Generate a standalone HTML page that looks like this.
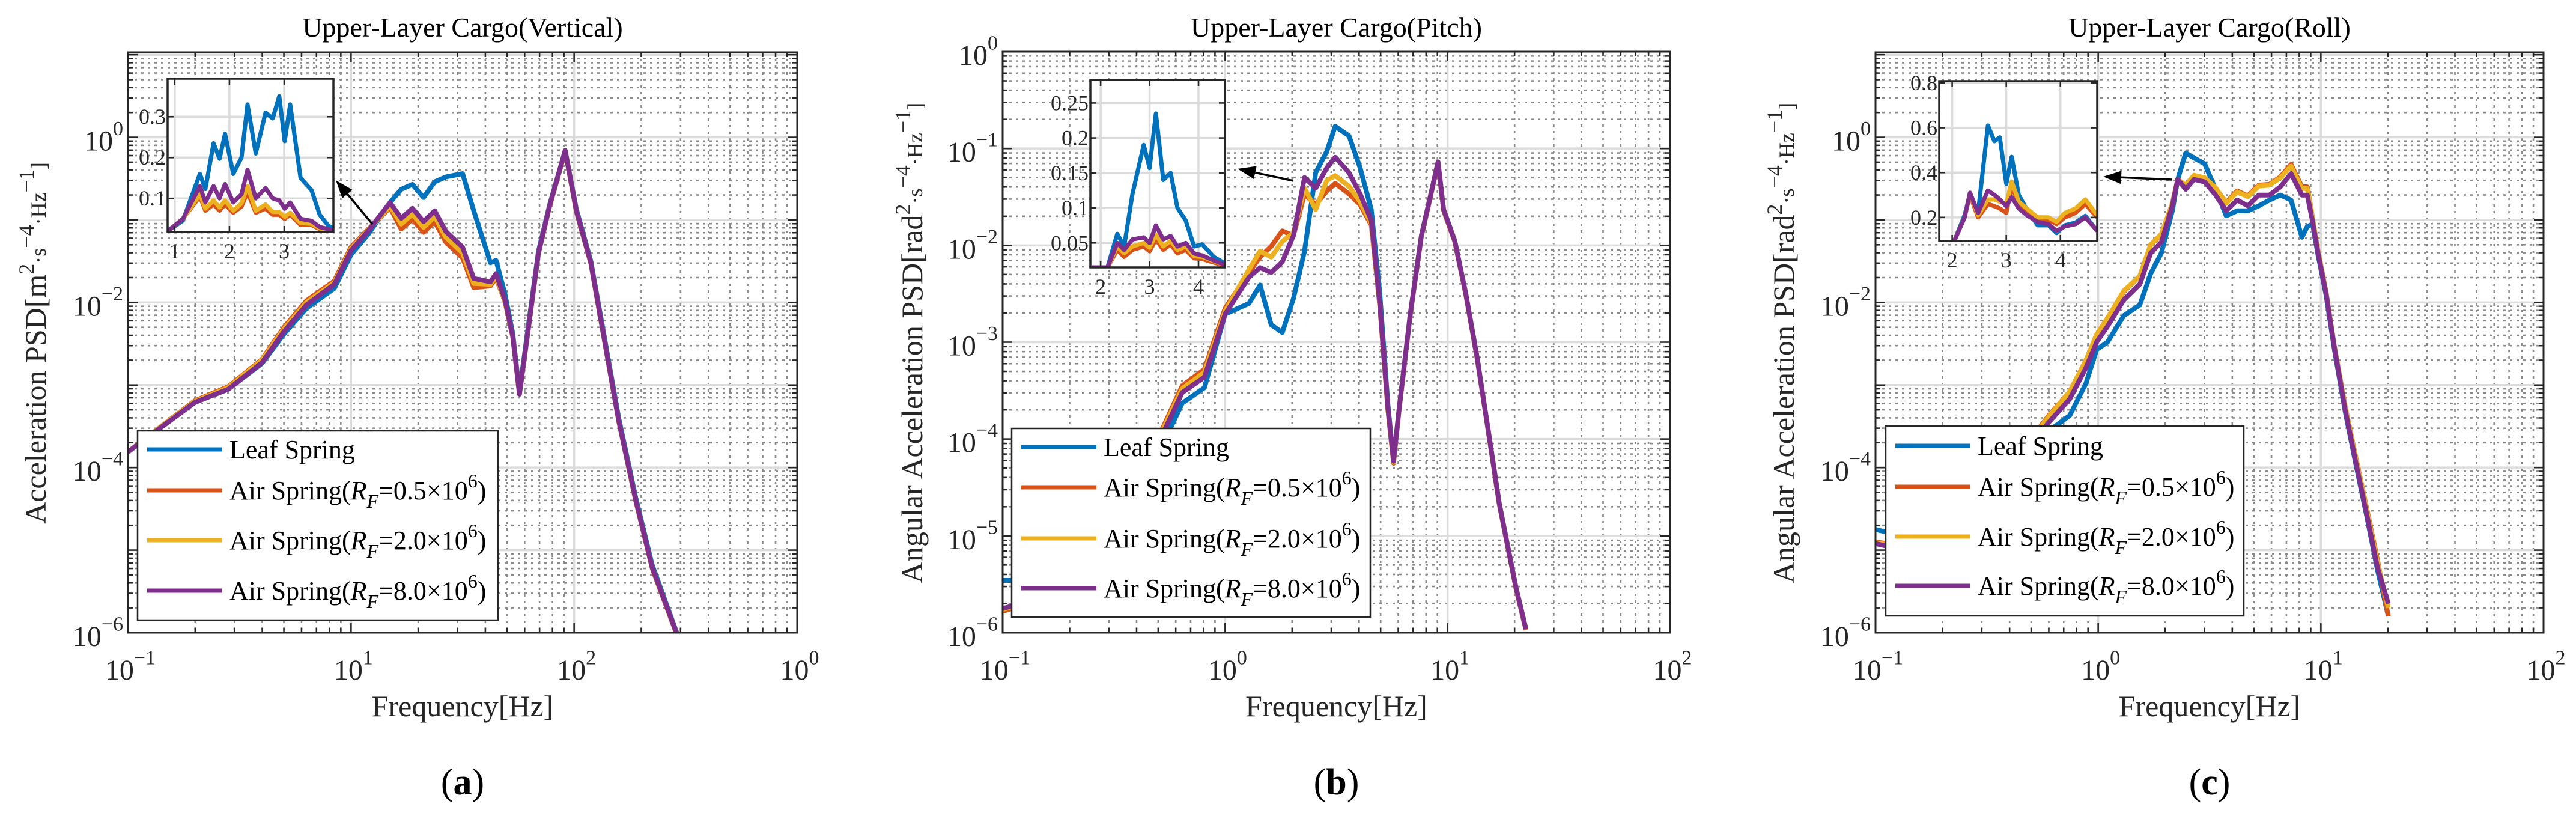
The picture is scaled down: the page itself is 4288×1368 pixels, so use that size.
<!DOCTYPE html>
<html><head><meta charset="utf-8"><style>
html,body{margin:0;padding:0;background:#fff;}
svg{display:block;font-family:"Liberation Serif","DejaVu Serif",serif;}
</style></head><body>
<svg id="fig" width="4288" height="1368" viewBox="0 0 4288 1368" xmlns="http://www.w3.org/2000/svg"></svg>
<script>
// ---------- DATA (log10 units: frequency exponent, PSD exponent) ----------
const aFreqLog = [-1,-0.875,-0.7,-0.55,-0.4,-0.3,-0.2,-0.075,0,0.075,0.175,0.225,0.275,0.325,0.375,0.425,0.5,0.55,0.625,0.65,0.69,0.725,0.755,0.79,0.84,0.89,0.96,1.01,1.075,1.125,1.2,1.275,1.35,1.46];
const aPurple = [-3.81,-3.56,-3.21,-3.05,-2.73,-2.35,-2.03,-1.78,-1.37,-1.14,-0.79,-0.98,-0.86,-1.02,-0.89,-1.14,-1.33,-1.71,-1.75,-1.65,-1.97,-2.41,-3.11,-2.41,-1.40,-0.83,-0.16,-0.89,-1.52,-2.29,-3.43,-4.38,-5.21,-6.01];
const aBlue   = [-3.81,-3.56,-3.21,-3.05,-2.74,-2.38,-2.07,-1.83,-1.42,-1.18,-0.79,-0.63,-0.57,-0.73,-0.54,-0.48,-0.44,-0.89,-1.52,-1.49,-1.90,-2.38,-3.08,-2.38,-1.38,-0.82,-0.16,-0.87,-1.50,-2.26,-3.40,-4.35,-5.18,-6.0];
const aOrange = [-3.81,-3.55,-3.19,-3.02,-2.69,-2.30,-1.98,-1.74,-1.33,-1.12,-0.85,-1.11,-0.99,-1.15,-1.02,-1.27,-1.46,-1.82,-1.80,-1.70,-1.99,-2.42,-3.11,-2.42,-1.41,-0.84,-0.17,-0.90,-1.53,-2.30,-3.44,-4.39,-5.22,-6.02];
const aYellow = [-3.81,-3.55,-3.20,-3.03,-2.70,-2.32,-2.00,-1.76,-1.35,-1.13,-0.83,-1.05,-0.93,-1.09,-0.96,-1.21,-1.40,-1.77,-1.78,-1.68,-1.98,-2.41,-3.11,-2.41,-1.40,-0.83,-0.16,-0.89,-1.52,-2.29,-3.43,-4.38,-5.21,-6.01];
const aInsetX = [0.87,1.15,1.46,1.56,1.71,1.82,1.92,2.07,2.22,2.33,2.48,2.66,2.79,2.91,3.01,3.11,3.3,3.5,3.65,3.81,3.91];
const aInsetBlue   = [0.02,0.046,0.16,0.123,0.235,0.197,0.258,0.16,0.2,0.33,0.21,0.31,0.296,0.35,0.24,0.33,0.15,0.12,0.06,0.033,0.027];
const aInsetPurple = [0.02,0.05,0.13,0.09,0.13,0.1,0.135,0.09,0.11,0.17,0.1,0.125,0.1,0.095,0.075,0.09,0.05,0.045,0.03,0.025,0.02];
const aInsetOrange = [0.02,0.05,0.105,0.07,0.085,0.07,0.085,0.065,0.08,0.115,0.065,0.075,0.06,0.06,0.05,0.06,0.035,0.035,0.025,0.022,0.02];
const aInsetYellow = [0.02,0.05,0.11,0.075,0.095,0.078,0.095,0.07,0.088,0.13,0.07,0.085,0.067,0.067,0.055,0.065,0.04,0.038,0.027,0.023,0.02];

const bFreqLog = [-1,-0.918,-0.718,-0.468,-0.293,-0.193,-0.093,0,0.107,0.157,0.207,0.257,0.307,0.357,0.407,0.457,0.495,0.557,0.607,0.657,0.695,0.732,0.757,0.782,0.832,0.882,0.92,0.957,0.982,1.032,1.082,1.132,1.182,1.232,1.307,1.352];
const bPurple = [-5.75,-5.70,-5.42,-4.61,-4.01,-3.52,-3.36,-2.71,-2.33,-2.23,-2.28,-2.17,-1.90,-1.30,-1.41,-1.20,-1.09,-1.25,-1.47,-1.74,-2.60,-3.69,-4.23,-3.69,-2.71,-1.90,-1.52,-1.14,-1.63,-1.95,-2.50,-3.15,-3.90,-4.66,-5.53,-5.96];
const bBlue   = [-5.46,-5.46,-5.40,-4.65,-4.12,-3.63,-3.47,-2.71,-2.60,-2.41,-2.82,-2.90,-2.55,-2.06,-1.25,-1.03,-0.77,-0.87,-1.20,-1.63,-2.49,-3.65,-4.23,-3.69,-2.71,-1.90,-1.52,-1.14,-1.63,-1.95,-2.50,-3.15,-3.90,-4.66,-5.53,-5.96];
const bOrange = [-5.78,-5.72,-5.40,-4.56,-3.95,-3.45,-3.28,-2.65,-2.28,-2.12,-2.01,-1.85,-1.90,-1.47,-1.58,-1.44,-1.36,-1.47,-1.58,-1.79,-2.62,-3.71,-4.25,-3.70,-2.72,-1.91,-1.53,-1.15,-1.64,-1.96,-2.51,-3.16,-3.91,-4.67,-5.54,-5.97];
const bYellow = [-5.76,-5.71,-5.41,-4.58,-3.97,-3.48,-3.31,-2.68,-2.25,-2.06,-2.12,-1.96,-1.87,-1.41,-1.63,-1.33,-1.28,-1.39,-1.55,-1.77,-2.61,-3.70,-4.24,-3.69,-2.71,-1.90,-1.52,-1.14,-1.63,-1.95,-2.50,-3.15,-3.90,-4.66,-5.53,-5.96];
const bInsetX = [1.82,2.14,2.34,2.48,2.65,2.88,3.0,3.13,3.28,3.43,3.57,3.74,3.91,4.08,4.31,4.56];
const bInsetBlue   = [0.015,0.015,0.063,0.045,0.12,0.19,0.157,0.235,0.14,0.15,0.1,0.082,0.045,0.048,0.03,0.02];
const bInsetPurple = [0.015,0.015,0.05,0.04,0.055,0.058,0.05,0.075,0.055,0.06,0.045,0.05,0.035,0.032,0.025,0.018];
const bInsetOrange = [0.015,0.015,0.04,0.03,0.04,0.045,0.038,0.055,0.04,0.048,0.035,0.04,0.028,0.027,0.022,0.017];
const bInsetYellow = [0.015,0.015,0.045,0.035,0.045,0.05,0.043,0.062,0.045,0.053,0.04,0.045,0.031,0.03,0.024,0.018];

const cFreqLog = [-1,-0.952,-0.685,-0.394,-0.225,-0.128,-0.055,-0.007,0.042,0.115,0.187,0.236,0.284,0.333,0.357,0.393,0.430,0.478,0.527,0.575,0.624,0.672,0.721,0.769,0.818,0.866,0.915,0.939,0.963,0.987,1.024,1.060,1.109,1.157,1.206,1.254,1.303];
const cPurple = [-4.92,-4.95,-4.70,-4.06,-3.46,-3.17,-2.79,-2.48,-2.29,-1.97,-1.78,-1.40,-1.27,-0.83,-0.51,-0.63,-0.51,-0.54,-0.70,-0.89,-0.76,-0.83,-0.70,-0.70,-0.60,-0.44,-0.70,-0.70,-1.02,-1.40,-1.90,-2.54,-3.30,-3.94,-4.57,-5.21,-5.65];
const cBlue   = [-4.75,-4.78,-4.62,-4.12,-3.56,-3.37,-2.98,-2.57,-2.48,-2.16,-2.03,-1.65,-1.40,-0.89,-0.51,-0.19,-0.25,-0.32,-0.63,-0.95,-0.89,-0.89,-0.83,-0.76,-0.70,-0.76,-1.21,-1.08,-1.05,-1.42,-1.92,-2.56,-3.32,-3.96,-4.59,-5.24,-5.8];
const cOrange = [-4.90,-4.92,-4.66,-3.98,-3.38,-3.08,-2.70,-2.39,-2.19,-1.87,-1.68,-1.30,-1.18,-0.80,-0.51,-0.60,-0.48,-0.50,-0.62,-0.79,-0.65,-0.71,-0.58,-0.57,-0.48,-0.33,-0.60,-0.60,-0.98,-1.37,-1.88,-2.52,-3.26,-3.88,-4.50,-5.12,-5.8];
const cYellow = [-4.91,-4.93,-4.67,-3.99,-3.39,-3.08,-2.70,-2.39,-2.19,-1.86,-1.68,-1.30,-1.17,-0.80,-0.51,-0.58,-0.46,-0.49,-0.61,-0.80,-0.66,-0.72,-0.59,-0.58,-0.49,-0.35,-0.62,-0.62,-0.99,-1.38,-1.89,-2.53,-3.27,-3.89,-4.52,-5.15,-5.7];
const cInsetX = [2.03,2.23,2.33,2.48,2.66,2.78,2.88,3.0,3.1,3.23,3.38,3.58,3.78,3.93,4.08,4.28,4.46,4.68];
const cInsetBlue   = [0.09,0.21,0.305,0.223,0.61,0.54,0.557,0.35,0.47,0.3,0.235,0.165,0.165,0.13,0.165,0.177,0.207,0.14];
const cInsetPurple = [0.09,0.2,0.31,0.22,0.32,0.3,0.28,0.25,0.29,0.24,0.21,0.18,0.17,0.14,0.16,0.17,0.2,0.14];
const cInsetOrange = [0.09,0.2,0.3,0.2,0.26,0.25,0.24,0.22,0.34,0.26,0.22,0.18,0.19,0.17,0.2,0.22,0.26,0.2];
const cInsetYellow = [0.09,0.2,0.31,0.21,0.28,0.28,0.27,0.26,0.36,0.27,0.24,0.2,0.2,0.18,0.22,0.24,0.28,0.21];

const aXTickExp = ['\u22121','1','2','0'];
const bXTickExp = ['\u22121','0','1','2'];
const cXTickExp = ['\u22121','0','1','2'];
const acYTicks = [-6,-4,-2,0];
const bYTicks = [-6,-5,-4,-3,-2,-1,0];
const aInsetXTicks = [1,2,3];
const aInsetYTicks = [0.1,0.2,0.3];
const bInsetXTicks = [2,3,4];
const bInsetYTicks = [0.05,0.1,0.15,0.2,0.25];
const bInsetYLabels = ['0.05','0.1','0.15','0.2','0.25'];
const cInsetXTicks = [2,3,4];
const cInsetYTicks = [0.2,0.4,0.6,0.8];
const legendLabels = ['Leaf Spring','0.5','2.0','8.0'];

// ---------- RENDERING ----------
const NS = 'http://www.w3.org/2000/svg';
const svg = document.getElementById('fig');
const COLORS = ['#0072BD','#D95319','#EDB120','#7E2F8E'];
function mk(tag, attrs, parent){
  const e = document.createElementNS(NS, tag);
  for (const k in attrs) e.setAttribute(k, attrs[k]);
  (parent||svg).appendChild(e);
  return e;
}
function sup(textEl, base, exp, size){
  const t1 = mk('tspan', {}, textEl); t1.textContent = base;
  const t2 = mk('tspan', {'font-size': size, dy: -size*0.75}, textEl); t2.textContent = exp;
}
let clipId = 0;

function panel(id, g, xTicksExp, yTicks, series, freq, title, ylabelParts, letter){
  const grp = mk('g', {});
  
  
  const xs = v => g.L + (v - g.xmin) / (g.xmax - g.xmin) * (g.R - g.L);
  const ys = v => g.B - (v - g.ymin) / (g.ymax - g.ymin) * (g.B - g.T);
  const minor = mk('g', {stroke:'#8a8a8a','stroke-width':2.6,'stroke-dasharray':'4 7'}, grp);
  
  
  for (let d = Math.floor(g.xmin); d < g.xmax; d++) for (let k = 2; k <= 9; k++){
    const v = d + Math.log10(k); if (v <= g.xmin || v >= g.xmax) continue;
    mk('line', {x1:xs(v), x2:xs(v), y1:g.T, y2:g.B}, minor);
  }
  for (let d = Math.floor(g.ymin); d < g.ymax; d++) for (let k = 2; k <= 9; k++){
    const v = d + Math.log10(k); if (v <= g.ymin || v >= g.ymax) continue;
    mk('line', {y1:ys(v), y2:ys(v), x1:g.L, x2:g.R}, minor);
  }
  const major = mk('g', {stroke:'#dcdcdc','stroke-width':3.5}, grp);
  
  
  for (let d = Math.ceil(g.xmin)+1; d < g.xmax; d++) mk('line', {x1:xs(d), x2:xs(d), y1:g.T, y2:g.B}, major);
  for (let d = Math.ceil(g.ymin)+1; d < g.ymax; d++) mk('line', {y1:ys(d), y2:ys(d), x1:g.L, x2:g.R}, major);
  clipId++;
  const cp = mk('clipPath', {id:'clip'+clipId}, grp);
  mk('rect', {x:g.L, y:g.T, width:g.R-g.L, height:g.B-g.T}, cp);
  const lines = mk('g', {'clip-path':'url(#clip'+clipId+')'}, grp);
  series.forEach((s, i) => {
    const d = s.map((v, j) => (j ? 'L' : 'M') + xs(freq[j]).toFixed(1) + ',' + ys(v).toFixed(1)).join('');
    const p = mk('path', {d:d, fill:'none', stroke:COLORS[i], 'stroke-width':8, 'stroke-linejoin':'round'}, lines);
    
    
  });
  const tk = mk('g', {stroke:'#262626','stroke-width':2.5}, grp);
  for (let d = Math.ceil(g.xmin); d <= g.xmax; d++){ mk('line',{x1:xs(d),x2:xs(d),y1:g.B,y2:g.B-16},tk); mk('line',{x1:xs(d),x2:xs(d),y1:g.T,y2:g.T+16},tk); }
  for (let d = Math.floor(g.xmin); d < g.xmax; d++) for (let k = 2; k <= 9; k++){ const v=d+Math.log10(k); if(v>=g.xmax) continue; mk('line',{x1:xs(v),x2:xs(v),y1:g.B,y2:g.B-8},tk); mk('line',{x1:xs(v),x2:xs(v),y1:g.T,y2:g.T+8},tk); }
  for (let d = Math.ceil(g.ymin); d <= g.ymax; d++){ mk('line',{y1:ys(d),y2:ys(d),x1:g.L,x2:g.L+16},tk); mk('line',{y1:ys(d),y2:ys(d),x1:g.R,x2:g.R-16},tk); }
  for (let d = Math.floor(g.ymin); d < g.ymax; d++) for (let k = 2; k <= 9; k++){ const v=d+Math.log10(k); if(v>=g.ymax) continue; mk('line',{y1:ys(v),y2:ys(v),x1:g.L,x2:g.L+8},tk); mk('line',{y1:ys(v),y2:ys(v),x1:g.R,x2:g.R-8},tk); }
  const box = mk('rect', {x:g.L, y:g.T, width:g.R-g.L, height:g.B-g.T, fill:'none', stroke:'#262626','stroke-width':3}, grp);
  
  
  xTicksExp.forEach((e, i) => {
    const t = mk('text', {x:xs(g.xmin + i) + 4, y:g.B + 78, 'font-size':48, fill:'#262626', 'text-anchor':'middle'}, grp);
    
    
    sup(t, '10', e, 34);
  });
  yTicks.forEach(v => {
    const t = mk('text', {x:g.L - 8, y:ys(v) + 22, 'font-size':48, fill:'#262626', 'text-anchor':'end'}, grp);
    
    
    sup(t, '10', (v===0?'0':'\u2212'+(-v)), 34);
  });
  const tt = mk('text', {x:(g.L+g.R)/2, y:61, 'font-size':46, 'text-anchor':'middle', fill:'#000'}, grp);
  tt.textContent = title;
  
  
  const xl = mk('text', {x:(g.L+g.R)/2, y:1192, 'font-size':50, 'text-anchor':'middle', fill:'#262626'}, grp);
  xl.textContent = 'Frequency[Hz]';
  
  
  const yl = mk('text', {x:0, y:0, 'font-size':50, 'text-anchor':'middle', fill:'#262626', transform:'translate(' + g.ylx + ',571) rotate(-90)'}, grp);
  
  
  ylabelParts.forEach(p => { const ts = mk('tspan', p[1] ? {'font-size':36, dy:p[1]} : {}, yl); ts.textContent = p[0]; });
  const lt = mk('text', {x:(g.L+g.R)/2, y:1322, 'font-size':62, 'text-anchor':'middle', fill:'#000'}, grp);
  
  
  const a1 = mk('tspan', {}, lt); a1.textContent = '(';
  const a2 = mk('tspan', {'font-weight':'bold'}, lt); a2.textContent = letter;
  const a3 = mk('tspan', {}, lt); a3.textContent = ')';
  return grp;
}

function inset(grp, r, xr, yr, xt, yt, ylabels, freq, series){
  const xs = v => r.L + (v - xr[0]) / (xr[1] - xr[0]) * (r.R - r.L);
  const ys = v => r.B - (v - yr[0]) / (yr[1] - yr[0]) * (r.B - r.T);
  const g = mk('g', {}, grp);
  
  
  mk('rect', {x:r.L, y:r.T, width:r.R-r.L, height:r.B-r.T, fill:'#fff'}, g);
  const gr = mk('g', {stroke:'#dcdcdc','stroke-width':3.5}, g);
  xt.forEach(v => mk('line', {x1:xs(v), x2:xs(v), y1:r.T, y2:r.B}, gr));
  yt.forEach(v => mk('line', {y1:ys(v), y2:ys(v), x1:r.L, x2:r.R}, gr));
  clipId++;
  const cp = mk('clipPath', {id:'clip'+clipId}, g);
  mk('rect', {x:r.L, y:r.T, width:r.R-r.L, height:r.B-r.T}, cp);
  const lg = mk('g', {'clip-path':'url(#clip'+clipId+')'}, g);
  series.forEach((s, i) => {
    const d = s.map((v, j) => (j ? 'L' : 'M') + xs(freq[j]).toFixed(1) + ',' + ys(v).toFixed(1)).join('');
    const p = mk('path', {d:d, fill:'none', stroke:COLORS[i], 'stroke-width':7, 'stroke-linejoin':'round'}, lg);
    
    
  });
  const tk = mk('g', {stroke:'#262626','stroke-width':2.5}, g);
  xt.forEach(v => { mk('line',{x1:xs(v),x2:xs(v),y1:r.B,y2:r.B-10},tk); mk('line',{x1:xs(v),x2:xs(v),y1:r.T,y2:r.T+10},tk); });
  yt.forEach(v => { mk('line',{y1:ys(v),y2:ys(v),x1:r.L,x2:r.L+10},tk); mk('line',{y1:ys(v),y2:ys(v),x1:r.R,x2:r.R-10},tk); });
  mk('rect', {x:r.L, y:r.T, width:r.R-r.L, height:r.B-r.T, fill:'none', stroke:'#262626','stroke-width':3.5}, g);
  xt.forEach(v => { const t = mk('text',{x:xs(v), y:r.B+44, 'font-size':36, 'text-anchor':'middle', fill:'#262626'}, g); t.textContent = String(v);
      });
  yt.forEach((v, i) => { const t = mk('text',{x:r.L-3, y:ys(v)+12, 'font-size':36, 'text-anchor':'end', fill:'#262626'}, g); t.textContent = ylabels[i];
      });
}

function arrow(grp, x1, y1, x2, y2){
  const ang = Math.atan2(y2-y1, x2-x1), L = 30, W = 11;
  const bx = x2 - L*Math.cos(ang), by = y2 - L*Math.sin(ang);
  const g = mk('g', {}, grp);
  
  
  mk('line', {x1:x1, y1:y1, x2:bx, y2:by, stroke:'#000', 'stroke-width':3.5}, g);
  mk('polygon', {points: x2+','+y2+' '+(bx+W*Math.sin(ang))+','+(by-W*Math.cos(ang))+' '+(bx-W*Math.sin(ang))+','+(by+W*Math.cos(ang)), fill:'#000'}, g);
}

function legend(grp, r, rows){
  const g = mk('g', {}, grp);
  
  
  mk('rect', {x:r.L, y:r.T, width:r.R-r.L, height:r.B-r.T, fill:'#fff', stroke:'#262626', 'stroke-width':2.5}, g);
  rows.forEach((y, i) => {
    const e = mk('g', {}, g);
    
    
    mk('line', {x1:r.L+16, x2:r.L+141, y1:y, y2:y, stroke:COLORS[i], 'stroke-width':7}, e);
    const t = mk('text', {x:r.L+153, y:y+15, 'font-size':44, fill:'#000'}, e);
    if (i === 0){ t.textContent = legendLabels[0]; return; }
    const a = mk('tspan', {}, t); a.textContent = 'Air Spring(';
    const b = mk('tspan', {'font-style':'italic'}, t); b.textContent = 'R';
    const c = mk('tspan', {'font-style':'italic','font-size':32, dy:14}, t); c.textContent = 'F';
    const d = mk('tspan', {dy:-14}, t); d.textContent = '=' + legendLabels[i] + '\u00d710';
    const f = mk('tspan', {'font-size':32, dy:-20}, t); f.textContent = '6';
    const h = mk('tspan', {dy:20}, t); h.textContent = ')';
  });
}

const yla = [['Acceleration PSD[m'],['2',-20],['\u00b7s',20],['\u22124',-20],['\u00b7Hz',20],['\u22121',-20],[']',20]];
const ylb = [['Angular Acceleration PSD[rad'],['2',-20],['\u00b7s',20],['\u22124',-20],['\u00b7Hz',20],['\u22121',-20],[']',20]];

const gA = {L:213,R:1327,T:87,B:1053,xmin:-1,xmax:2,ymin:-6,ymax:1.03,ylx:76};
const pA = panel('a', gA, aXTickExp, acYTicks, [aBlue,aOrange,aYellow,aPurple], aFreqLog, 'Upper-Layer Cargo(Vertical)', yla, 'a');
inset(pA, {L:279,R:555,T:131,B:386}, [0.87,3.9], [0.018,0.393], aInsetXTicks, aInsetYTicks, ['0.1','0.2','0.3'], aInsetX, [aInsetBlue,aInsetOrange,aInsetYellow,aInsetPurple]);
arrow(pA, 620, 373, 559, 300);
legend(pA, {L:229,R:829,T:717,B:1032}, [748,816,899,983]);

const gB = {L:1669,R:2780,T:86,B:1053,xmin:-1,xmax:2,ymin:-6,ymax:0,ylx:1535};
const pB = panel('b', gB, bXTickExp, bYTicks, [bBlue,bOrange,bYellow,bPurple], bFreqLog, 'Upper-Layer Cargo(Pitch)', ylb, 'b');
inset(pB, {L:1815,R:2039,T:133,B:445}, [1.79,4.54], [0.015,0.283], bInsetXTicks, bInsetYTicks, bInsetYLabels, bInsetX, [bInsetBlue,bInsetOrange,bInsetYellow,bInsetPurple]);
arrow(pB, 2153, 301, 2060, 281);
legend(pB, {L:1684,R:2281,T:713,B:1027}, [744,811,896,979]);

const gC = {L:3122,R:4234,T:87,B:1053,xmin:-1,xmax:2,ymin:-6,ymax:1.03,ylx:2986};
const pC = panel('c', gC, cXTickExp, acYTicks, [cBlue,cOrange,cYellow,cPurple], cFreqLog, 'Upper-Layer Cargo(Roll)', ylb, 'c');
inset(pC, {L:3228,R:3491,T:135,B:401}, [1.76,4.68], [0.095,0.808], cInsetXTicks, cInsetYTicks, ['0.2','0.4','0.6','0.8'], cInsetX, [cInsetBlue,cInsetOrange,cInsetYellow,cInsetPurple]);
arrow(pC, 3616, 299, 3501, 294);
legend(pC, {L:3139,R:3735,T:709,B:1025}, [742,810,893,975]);
</script>
</body></html>
